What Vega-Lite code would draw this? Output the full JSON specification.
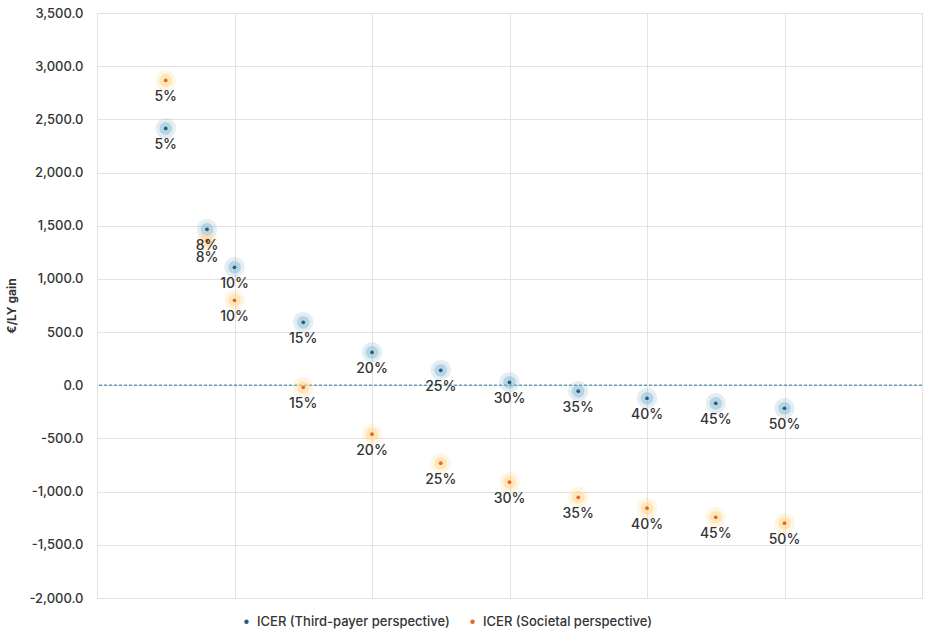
{
  "$schema": "https://vega.github.io/schema/vega-lite/v6.json",
  "width": 825,
  "height": 585,
  "autosize": {"type": "none"},
  "padding": {"left": 97, "top": 13, "right": 6, "bottom": 36},
  "background": "white",
  "config": {
    "view": {"stroke": null},
    "font": "Inter",
    "locale": {"number": {"decimal": ".", "thousands": ",", "grouping": [3], "currency": ["", ""], "minus": "-"}},
    "axis": {"gridColor": "#e6e1dc", "gridWidth": 1, "domain": false, "ticks": false}
  },
  "data": {
    "values": [
      {"series": "ICER (Third-payer perspective)", "pct": 5, "icer": 2415, "label": "5%"},
      {"series": "ICER (Third-payer perspective)", "pct": 8, "icer": 1466, "label": "8%"},
      {"series": "ICER (Third-payer perspective)", "pct": 10, "icer": 1109, "label": "10%"},
      {"series": "ICER (Third-payer perspective)", "pct": 15, "icer": 592, "label": "15%"},
      {"series": "ICER (Third-payer perspective)", "pct": 20, "icer": 310, "label": "20%"},
      {"series": "ICER (Third-payer perspective)", "pct": 25, "icer": 141, "label": "25%"},
      {"series": "ICER (Third-payer perspective)", "pct": 30, "icer": 28, "label": "30%"},
      {"series": "ICER (Third-payer perspective)", "pct": 35, "icer": -56, "label": "35%"},
      {"series": "ICER (Third-payer perspective)", "pct": 40, "icer": -122, "label": "40%"},
      {"series": "ICER (Third-payer perspective)", "pct": 45, "icer": -169, "label": "45%"},
      {"series": "ICER (Third-payer perspective)", "pct": 50, "icer": -216, "label": "50%"},
      {"series": "ICER (Societal perspective)", "pct": 5, "icer": 2866, "label": "5%"},
      {"series": "ICER (Societal perspective)", "pct": 8, "icer": 1360, "label": "8%"},
      {"series": "ICER (Societal perspective)", "pct": 10, "icer": 799, "label": "10%"},
      {"series": "ICER (Societal perspective)", "pct": 15, "icer": -19, "label": "15%"},
      {"series": "ICER (Societal perspective)", "pct": 20, "icer": -460, "label": "20%"},
      {"series": "ICER (Societal perspective)", "pct": 25, "icer": -733, "label": "25%"},
      {"series": "ICER (Societal perspective)", "pct": 30, "icer": -911, "label": "30%"},
      {"series": "ICER (Societal perspective)", "pct": 35, "icer": -1053, "label": "35%"},
      {"series": "ICER (Societal perspective)", "pct": 40, "icer": -1156, "label": "40%"},
      {"series": "ICER (Societal perspective)", "pct": 45, "icer": -1241, "label": "45%"},
      {"series": "ICER (Societal perspective)", "pct": 50, "icer": -1297, "label": "50%"}
    ]
  },
  "encoding": {
    "x": {
      "field": "pct", "type": "quantitative",
      "scale": {"domain": [0, 60], "nice": false},
      "axis": {"values": [0, 10, 20, 30, 40, 50, 60], "labels": false, "title": null, "grid": true}
    },
    "y": {
      "field": "icer", "type": "quantitative",
      "scale": {"domain": [-2000, 3500], "nice": false},
      "axis": {
        "values": [-2000, -1500, -1000, -500, 0, 500, 1000, 1500, 2000, 2500, 3000, 3500],
        "format": ",.1f", "labelFontSize": 13, "labelColor": "#333333", "labelPadding": 14,
        "labelFontWeight": 500,
        "title": "€/LY gain", "titleFontSize": 12, "titleFontWeight": "bold", "titleColor": "#333333",
        "titlePadding": 10
      }
    }
  },
  "layer": [
    {
      "mark": {"type": "rule", "strokeDash": [3, 2], "color": "#5f9fb8", "strokeWidth": 1.3},
      "data": {"values": [{"z": 0}]},
      "encoding": {"y": {"field": "z", "type": "quantitative"}, "x": null}
    },
    {
      "transform": [{"filter": "datum.series === 'ICER (Third-payer perspective)'"}],
      "mark": {"type": "circle", "size": 420, "opacity": 0.22, "color": "#7fb3cf"},
      "encoding": {}
    },
    {
      "transform": [{"filter": "datum.series === 'ICER (Third-payer perspective)'"}],
      "mark": {"type": "circle", "size": 160, "opacity": 0.45, "color": "#7fb3cf"},
      "encoding": {}
    },
    {
      "transform": [{"filter": "datum.series === 'ICER (Societal perspective)'"}],
      "mark": {"type": "circle", "size": 420, "opacity": 0.25, "color": "#fdd890"},
      "encoding": {}
    },
    {
      "transform": [{"filter": "datum.series === 'ICER (Societal perspective)'"}],
      "mark": {"type": "circle", "size": 160, "opacity": 0.5, "color": "#fdd890"},
      "encoding": {}
    },
    {
      "mark": {"type": "circle", "size": 14, "opacity": 1},
      "encoding": {
        "color": {
          "field": "series", "type": "nominal",
          "scale": {"domain": ["ICER (Third-payer perspective)", "ICER (Societal perspective)"], "range": ["#1f5f80", "#e8642a"]},
          "legend": {
            "title": null, "orient": "none", "direction": "horizontal",
            "legendX": 143, "legendY": 602, "labelLimit": 0,
            "labelFontSize": 13, "labelColor": "#333333",
            "labelFontWeight": 500, "symbolSize": 20, "symbolType": "circle", "columnPadding": 16
          }
        }
      }
    },
    {
      "mark": {"type": "text", "dy": 17, "fontSize": 14, "color": "#333333", "baseline": "middle", "fontWeight": 500},
      "encoding": {"text": {"field": "label"}}
    }
  ]
}
